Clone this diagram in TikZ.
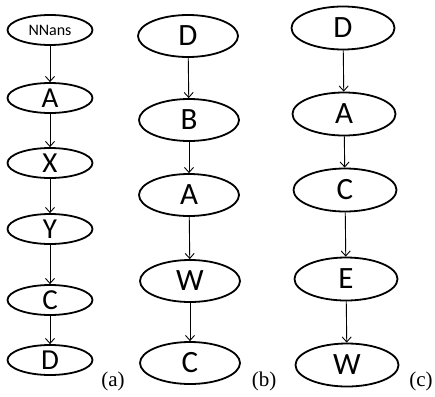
\documentclass[tikz,border=0pt]{standalone}
\usepackage{fontspec}
\setmainfont{Liberation Serif}
\newfontfamily\nodefont{Carlito}
\usetikzlibrary{shapes.geometric,arrows.meta}
\begin{document}
\begin{tikzpicture}[x=1pt,y=-1pt,
  ell/.style={ellipse,draw,line width=1.8pt,inner sep=0pt,font=\nodefont\fontsize{31}{31}\selectfont},
  ella/.style={ell,minimum width=85pt,minimum height=30pt,font=\nodefont\fontsize{29}{29}\selectfont},
  ellb/.style={ell,minimum width=100pt,minimum height=42pt},
  ellc/.style={ell,minimum width=103pt,minimum height=43pt},
  link/.style={-{Straight Barb[length=5pt,width=9pt]},line width=0.9pt},
  tag/.style={font=\fontsize{21}{21}\selectfont}]
\useasboundingbox (0,0) rectangle (435,396);
% chain (a)
\node[ella,font=\nodefont\fontsize{16}{16}\selectfont] (a1) at (50,30) {NNans};
\node[ella] (a2) at (50,98) {A};
\node[ella] (a3) at (50,163) {X};
\node[ella] (a4) at (50,229) {Y};
\node[ella] (a5) at (50,300) {C};
\node[ella] (a6) at (50,360) {D};
\foreach \i/\j in {a1/a2,a2/a3,a3/a4,a4/a5,a5/a6} \draw[link] (\i) -- (\j);
\node[tag] (la) at (113,381) {(a)};
% chain (b)
\node[ellb] (b1) at (188,36) {D};
\node[ellb] (b2) at (189,120) {B};
\node[ellb] (b3) at (189,195) {A};
\node[ellb] (b4) at (190,281) {W};
\node[ellb] (b5) at (190,363) {C};
\foreach \i/\j in {b1/b2,b2/b3,b3/b4,b4/b5} \draw[link] (\i) -- (\j);
\node[tag] (lb) at (264,381) {(b)};
% chain (c)
\node[ellc] (c1) at (343,28) {D};
\node[ellc] (c2) at (344,114) {A};
\node[ellc] (c3) at (345,190) {C};
\node[ellc] (c4) at (346,279) {E};
\node[ellc] (c5) at (347,365) {W};
\foreach \i/\j in {c1/c2,c2/c3,c3/c4,c4/c5} \draw[link] (\i) -- (\j);
\node[tag] (lc) at (421,381) {(c)};
\end{tikzpicture}
\end{document}
